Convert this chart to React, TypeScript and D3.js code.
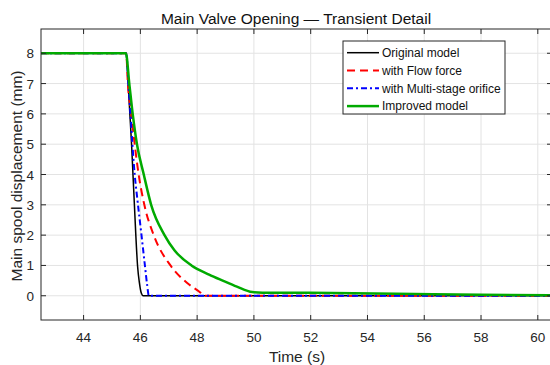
import React from "react";
import * as d3 from "d3";

const xTicks = [44, 46, 48, 50, 52, 54, 56, 58, 60];
const yTicks = [0, 1, 2, 3, 4, 5, 6, 7, 8];

const originalT = [42.5, 45.5, 45.57, 45.63, 45.69, 45.74, 45.79, 45.84, 45.9, 45.97, 46.03, 46.1, 60.5];
const originalY = [8, 8, 7, 6, 5, 4, 3, 2, 1, 0.4, 0.1, 0, 0];

const flowT = [42.5, 45.5, 45.56, 45.68, 45.8, 45.94, 46.14, 46.47, 47.06, 47.65, 48.12, 48.24, 60.5];
const flowY = [8, 8, 7, 6, 5, 4, 3, 2, 1, 0.42, 0.1, 0, 0];

const multiT = [42.5, 45.5, 45.58, 45.65, 45.72, 45.8, 45.88, 46.04, 46.16, 46.24, 46.3, 60.5];
const multiY = [8, 8, 7, 6, 5, 4, 3.3, 2, 1, 0.35, 0, 0];

const improvedT = [42.5, 45.49, 45.61, 45.73, 45.88, 46.12, 46.38, 46.85, 47.2, 47.8, 48.42, 48.9, 49.4, 49.94, 50.3, 52, 55, 58, 60.5];
const improvedY = [8, 8, 7, 6, 5, 4, 3, 2, 1.5, 1, 0.7, 0.5, 0.3, 0.12, 0.1, 0.095, 0.07, 0.03, 0.02];

const seriesNames = ["Original model", "with Flow force", "with Multi-stage orifice", "Improved model"];

export default function App() {
  const W = 550, H = 365;
  const L = 41, R = 552, T = 29, B = 320;
  const x = d3.scaleLinear().domain([42.5, 60.5]).range([L, R]);
  const y = d3.scaleLinear().domain([-0.8, 8.8]).range([B, T]);
  const line = d3.line<[number, number]>().x(d => x(d[0])).y(d => y(d[1])).curve(d3.curveMonotoneX);
  const mk = (ts: number[], vs: number[]) => line(ts.map((t, i) => [t, vs[i]] as [number, number])) || "";

  const series = [
    { name: seriesNames[0], d: mk(originalT, originalY), color: "#000000", w: 1.5, dash: "" },
    { name: seriesNames[1], d: mk(flowT, flowY), color: "#ff0000", w: 2, dash: "8,5" },
    { name: seriesNames[2], d: mk(multiT, multiY), color: "#0000ff", w: 2, dash: "6,3,2,3" },
    { name: seriesNames[3], d: mk(improvedT, improvedY), color: "#00aa00", w: 2.5, dash: "" },
  ];

  const font = "Liberation Sans, Arial, sans-serif";
  const axisCol = "#262626";
  const lg = { x: 343, y: 41, w: 162, h: 73 };

  return (
    <svg width={W} height={H} style={{ position: "absolute", left: 0, top: 0, background: "#fff" }} fontFamily={font}>
      <rect x={0} y={0} width={W} height={H} fill="#fff" />
      <defs>
        <clipPath id="clip">
          <rect x={L} y={T} width={R - L} height={B - T} />
        </clipPath>
      </defs>
      {xTicks.map(t => (
        <line key={"gx" + t} x1={x(t)} x2={x(t)} y1={T} y2={B} stroke="#e3e3e3" strokeWidth={1} />
      ))}
      {yTicks.map(t => (
        <line key={"gy" + t} x1={L} x2={R} y1={y(t)} y2={y(t)} stroke="#e3e3e3" strokeWidth={1} />
      ))}
      <g clipPath="url(#clip)">
        {series.map(s => (
          <path key={s.name} d={s.d} fill="none" stroke={s.color} strokeWidth={s.w} strokeDasharray={s.dash || undefined} strokeLinejoin="round" />
        ))}
      </g>
      <rect x={L} y={T} width={R - L} height={B - T} fill="none" stroke={axisCol} strokeWidth={1} />
      {xTicks.map(t => (
        <g key={"tx" + t}>
          <line x1={x(t)} x2={x(t)} y1={B} y2={B - 5} stroke={axisCol} />
          <line x1={x(t)} x2={x(t)} y1={T} y2={T + 5} stroke={axisCol} />
          <text x={x(t)} y={342} textAnchor="middle" fontSize={13.5} fill={axisCol}>{t}</text>
        </g>
      ))}
      {yTicks.map(t => (
        <g key={"ty" + t}>
          <line x1={L} x2={L + 5} y1={y(t)} y2={y(t)} stroke={axisCol} />
          <line x1={R} x2={R - 5} y1={y(t)} y2={y(t)} stroke={axisCol} />
          <text x={34} y={y(t) + 5} textAnchor="end" fontSize={13.5} fill={axisCol}>{t}</text>
        </g>
      ))}
      <text x={296} y={24} textAnchor="middle" fontSize={15.5} fill="#111">Main Valve Opening — Transient Detail</text>
      <text x={297} y={362} textAnchor="middle" fontSize={15.5} fill={axisCol}>Time (s)</text>
      <text transform={`translate(22,176) rotate(-90)`} textAnchor="middle" fontSize={15.5} fill={axisCol}>Main spool displacement (mm)</text>
      <rect x={lg.x} y={lg.y} width={lg.w} height={lg.h} fill="#fff" stroke={axisCol} strokeWidth={1} />
      {series.map((s, i) => {
        const cy = 52.7 + i * 17.8;
        return (
          <g key={"lg" + i}>
            <line x1={347} x2={379} y1={cy} y2={cy} stroke={s.color} strokeWidth={s.w} strokeDasharray={s.dash || undefined} />
            <text x={382} y={cy + 4.2} fontSize={12} fill="#111">{s.name}</text>
          </g>
        );
      })}
    </svg>
  );
}
